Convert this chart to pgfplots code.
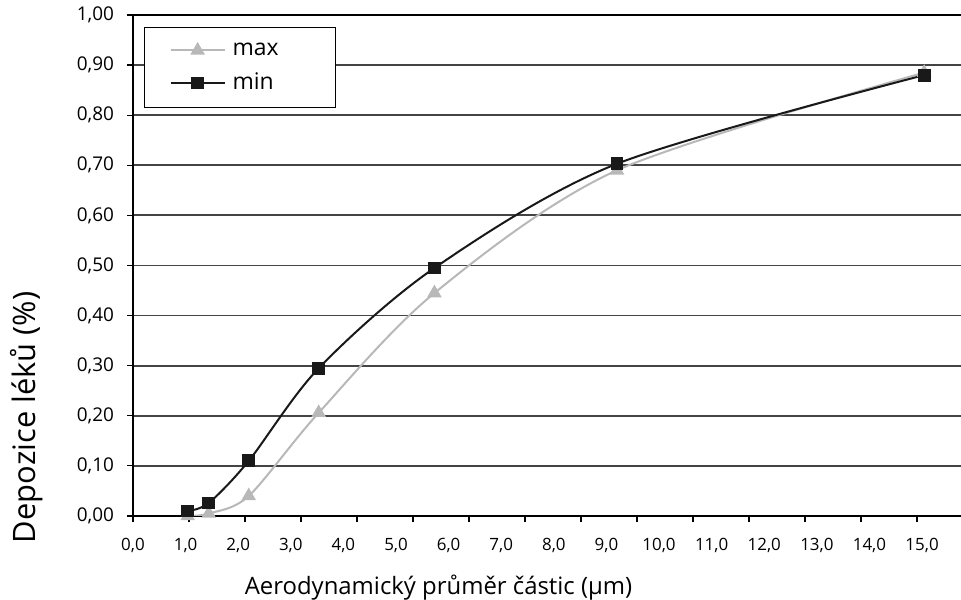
\documentclass[border=0pt]{standalone}
\usepackage{fontspec}
\setmainfont{Open Sans}
\usepackage{pgfplots}
\pgfplotsset{compat=1.18}
\definecolor{maxgray}{HTML}{B8B8B8}
\definecolor{gridc}{HTML}{444444}
\begin{document}
\begin{tikzpicture}
\useasboundingbox (-66.5bp,-42bp) rectangle (414bp,258bp);
\begin{axis}[
  at={(0,0)}, anchor=south west,
  scale only axis, width=414bp, height=250.5bp,
  xmin=0, xmax=15.74, ymin=0, ymax=1,
  axis lines*=left,
  x axis line style={line width=1.1bp, black},
  y axis line style={line width=0.8bp, black},
  xtick={0,1,...,15},
  ytick={0,0.1,0.2,0.3,0.4,0.5,0.6,0.7,0.8,0.9,1},
  tick align=outside, major tick length=3bp,
  xtick style={draw=none},
  ytick style={line width=0.6bp, black},
  extra x ticks={0,1.065,2.129,3.194,4.259,5.323,6.388,7.452,8.517,9.582,10.646,11.711,12.776,13.84,14.905},
  extra x tick labels={},
  extra x tick style={grid=none, xtick style={draw=black, line width=0.6bp}},
  ymajorgrids, grid style={line width=0.9bp, gridc},
  xticklabel style={font=\fontsize{8.5}{10}\selectfont, yshift=-4.5bp,
    /pgf/number format/.cd, fixed, fixed zerofill, precision=1, use comma, assume math mode=true},
  yticklabel style={font=\fontsize{9.5}{11}\selectfont, xshift=-3bp,
    /pgf/number format/.cd, fixed, fixed zerofill, precision=2, use comma, assume math mode=true},
  xlabel={Aerodynamický průměr částic (µm)},
  xlabel style={font=\fontsize{12}{14}\selectfont, at={(axis description cs:0.369,-0.1437)}, anchor=center},
  ylabel={Depozice léků (\%)},
  ylabel style={font=\fontsize{15.5}{18}\selectfont, at={(axis description cs:-0.128,0.197)}, anchor=center, rotate=0},
  legend style={at={(axis description cs:0.0133,0.976)}, anchor=north west,
    draw=black, line width=0.6bp, fill=white, inner xsep=12.5bp, inner ysep=5.5bp,
    font=\fontsize{11.5}{13}\selectfont, row sep=3.5bp, cells={anchor=west}},
  legend image code/.code={\draw[mark repeat=2,mark phase=2] plot coordinates {(0bp,0bp) (13.5bp,0bp) (27bp,0bp)};},
  after end axis/.code={\draw[line width=1.1bp, black] (rel axis cs:0,1) -- (rel axis cs:1,1);},
]
\addplot[smooth, maxgray, line width=1bp, mark=triangle*, mark size=3.2bp, mark options={fill=maxgray, draw=maxgray}]
  coordinates {(1.04,0.0) (1.44,0.005) (2.2,0.04) (3.53,0.206) (5.73,0.445) (9.2,0.69) (15.04,0.885)};
\addlegendentry{\hspace*{1.5bp}max\hspace*{14bp}}
\addplot[smooth, black!90, line width=1bp, mark=square*, mark size=2.7bp, mark options={fill=black!90, draw=black!90}]
  coordinates {(1.04,0.01) (1.44,0.026) (2.2,0.11) (3.53,0.295) (5.73,0.495) (9.2,0.703) (15.04,0.88)};
\addlegendentry{\hspace*{1.5bp}min\hspace*{14bp}}
\end{axis}
\end{tikzpicture}
\end{document}
